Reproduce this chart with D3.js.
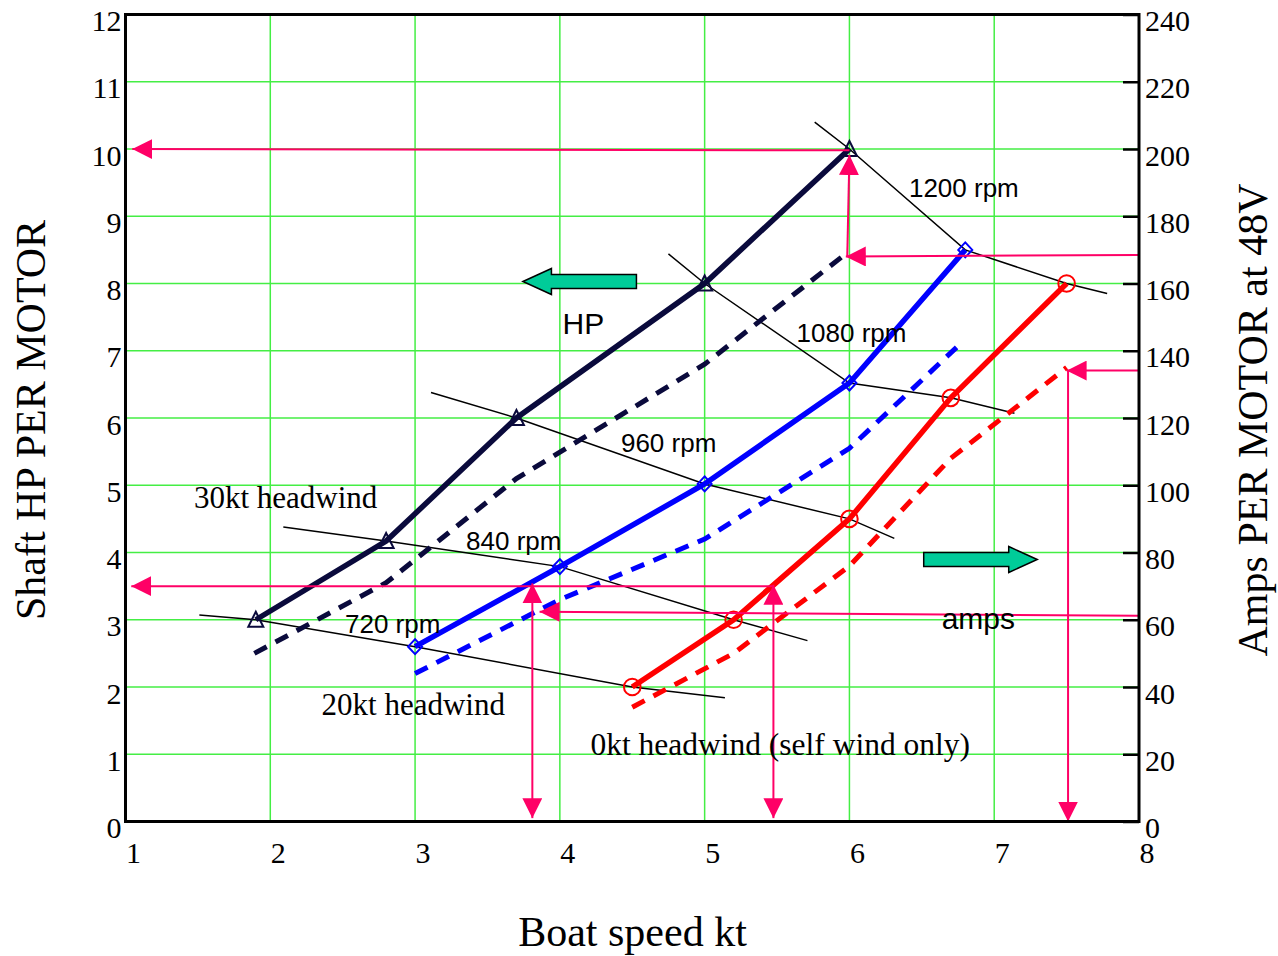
<!DOCTYPE html>
<html>
<head>
<meta charset="utf-8">
<script src="https://cdn.jsdelivr.net/npm/d3@7"></script>
<style>
  body { margin: 0; background: #fff; }
</style>
</head>
<body>
<div id="chart"></div>
<script>
// Ticks
const speedTicks = [1, 2, 3, 4, 5, 6, 7, 8];
const hpTicks = [0, 1, 2, 3, 4, 5, 6, 7, 8, 9, 10, 11, 12];
const ampTicks = [0, 20, 40, 60, 80, 100, 120, 140, 160, 180, 200, 220, 240];
const gridSpeeds = [2, 3, 4, 5, 6, 7];
const gridHp = [1, 2, 3, 4, 5, 6, 7, 8, 9, 10, 11];

// 30kt headwind
const speedHw30 = [1.9, 2.8, 3.7, 5.0, 6.0];
const hpHw30 = [3.0, 4.17, 6.0, 8.0, 10.0];
const ampSpeedHw30 = [1.89, 2.8, 3.7, 5.0, 5.95];
const ampsHw30 = [50, 71, 102, 136, 168];

// 20kt headwind
const speedHw20 = [3.0, 4.0, 5.0, 6.0, 6.8];
const hpHw20 = [2.6, 3.79, 5.02, 6.52, 8.5];
const ampSpeedHw20 = [3.0, 4.0, 5.0, 6.0, 6.74];
const ampsHw20 = [44, 66, 84, 111, 141];

// 0kt headwind (self wind only)
const speedHw0 = [4.5, 5.2, 6.0, 6.7, 7.5];
const hpHw0 = [2.0, 3.0, 4.5, 6.3, 8.0];
const ampSpeedHw0 = [4.5, 5.2, 6.0, 6.7, 7.5];
const ampsHw0 = [34, 50, 76, 108, 135];

// constant rpm lines (run through the i-th point of each headwind curve)
const rpmLabels = ["720 rpm", "840 rpm", "960 rpm", "1080 rpm", "1200 rpm"];
const rpmFromSpeed = [1.51, 2.09, 3.11, 4.75, 5.76];
const rpmFromHp = [3.07, 4.38, 6.38, 8.44, 10.4];
const rpmToSpeed = [5.14, 5.71, 6.31, 7.14, 7.78];
const rpmToHp = [1.84, 2.69, 4.21, 6.07, 7.85];

// Set up chart dimensions and margins
const margin = { top: 14.5, right: 139, bottom: 134.5, left: 125.5 };
const width = 1278 - margin.left - margin.right;
const height = 956 - margin.top - margin.bottom;

const serif = "'Liberation Serif', 'Times New Roman', serif";
const sans = "'Liberation Sans', Arial, sans-serif";
const navy = "#0a0a3c";
const pink = "#ff0066";
const gridColor = "#44ee44";

const root = d3.select("#chart")
    .append("svg")
    .attr("width", 1278)
    .attr("height", 956);

const svg = root.append("g")
    .attr("transform", `translate(${margin.left},${margin.top})`);

const defs = root.append("defs");
defs.append("marker")
    .attr("id", "head")
    .attr("viewBox", "0 -10 20 20")
    .attr("refX", 20)
    .attr("refY", 0)
    .attr("markerWidth", 20)
    .attr("markerHeight", 20)
    .attr("markerUnits", "userSpaceOnUse")
    .attr("orient", "auto-start-reverse")
    .append("path")
    .attr("d", "M0,-10L20,0L0,10Z")
    .attr("fill", pink);

// scales
const x = d3.scaleLinear().domain([1, 8]).range([0, width]);
const yHp = d3.scaleLinear().domain([0, 12]).range([height, 0]);
const yAmps = d3.scaleLinear().domain([0, 240]).range([height, 0]);

// grid
svg.append("g").selectAll("line")
    .data(gridSpeeds)
    .join("line")
    .attr("x1", d => x(d)).attr("x2", d => x(d))
    .attr("y1", 0).attr("y2", height)
    .attr("stroke", gridColor).attr("stroke-width", 1.5);

svg.append("g").selectAll("line")
    .data(gridHp)
    .join("line")
    .attr("x1", 0).attr("x2", width)
    .attr("y1", d => yHp(d)).attr("y2", d => yHp(d))
    .attr("stroke", gridColor).attr("stroke-width", 1.5);

// rpm lines
rpmLabels.forEach((label, i) => {
    const pts = [
        [rpmFromSpeed[i], rpmFromHp[i]],
        [speedHw30[i], hpHw30[i]],
        [speedHw20[i], hpHw20[i]],
        [speedHw0[i], hpHw0[i]],
        [rpmToSpeed[i], rpmToHp[i]]
    ];
    svg.append("path")
        .datum(pts)
        .attr("d", d3.line().x(d => x(d[0])).y(d => yHp(d[1])))
        .attr("fill", "none")
        .attr("stroke", "#000")
        .attr("stroke-width", 1.5);
});

function drawCurve(xs, ys, yScale, color, dashed) {
    svg.append("path")
        .datum(d3.zip(xs, ys))
        .attr("d", d3.line().x(d => x(d[0])).y(d => yScale(d[1])))
        .attr("fill", "none")
        .attr("stroke", color)
        .attr("stroke-width", dashed ? 5 : 5.5)
        .attr("stroke-dasharray", dashed ? "14,10" : null);
}

// amps (dashed, right axis)
drawCurve(ampSpeedHw30, ampsHw30, yAmps, navy, true);
drawCurve(ampSpeedHw20, ampsHw20, yAmps, "#0000ff", true);
drawCurve(ampSpeedHw0, ampsHw0, yAmps, "#ff0000", true);

// HP (solid, left axis)
drawCurve(speedHw30, hpHw30, yHp, navy, false);
drawCurve(speedHw20, hpHw20, yHp, "#0000ff", false);
drawCurve(speedHw0, hpHw0, yHp, "#ff0000", false);

// markers
svg.append("g").selectAll("path")
    .data(d3.zip(speedHw30, hpHw30))
    .join("path")
    .attr("transform", d => `translate(${x(d[0])},${yHp(d[1])})`)
    .attr("d", "M0,-8L7.5,7L-7.5,7Z")
    .attr("fill", "none").attr("stroke", navy).attr("stroke-width", 2);

svg.append("g").selectAll("path")
    .data(d3.zip(speedHw20, hpHw20))
    .join("path")
    .attr("transform", d => `translate(${x(d[0])},${yHp(d[1])})`)
    .attr("d", "M0,-7.5L7,0L0,7.5L-7,0Z")
    .attr("fill", "none").attr("stroke", "#0000ff").attr("stroke-width", 2);

svg.append("g").selectAll("circle")
    .data(d3.zip(speedHw0, hpHw0))
    .join("circle")
    .attr("cx", d => x(d[0]))
    .attr("cy", d => yHp(d[1]))
    .attr("r", 8.3)
    .attr("fill", "none").attr("stroke", "#ff0000").attr("stroke-width", 2);

// pink read-off arrows
function arrow(x1, y1, x2, y2, both) {
    svg.append("line")
        .attr("x1", x1).attr("y1", y1)
        .attr("x2", x2).attr("y2", y2)
        .attr("stroke", pink)
        .attr("stroke-width", 2)
        .attr("marker-start", both ? "url(#head)" : null)
        .attr("marker-end", "url(#head)");
}

arrow(x(6.0), yHp(9.98), x(1.047), yHp(10), false);
arrow(x(5.985), yAmps(168), x(6.0), yHp(9.91), false);
arrow(x(8), yAmps(168.5), x(5.975), yAmps(168), false);
arrow(x(8), yAmps(134.1), x(7.5), yAmps(134.1), false);
arrow(x(7.51), yAmps(134.1), x(7.51), yHp(0), false);
arrow(x(5.47), yHp(3.5), x(1.04), yHp(3.5), false);
arrow(x(3.81), yHp(0.05), x(3.81), yHp(3.54), true);
arrow(x(8), yAmps(61.2), x(3.86), yAmps(62.4), false);
arrow(x(5.475), yHp(0.05), x(5.475), yHp(3.52), true);

// rpm labels
const rpmLabelSpeed = [2.516, 3.352, 4.422, 5.635, 6.411];
const rpmLabelHp = [2.80, 4.037, 5.494, 7.135, 9.29];
rpmLabels.forEach((label, i) => {
    svg.append("text")
        .attr("x", x(rpmLabelSpeed[i]))
        .attr("y", yHp(rpmLabelHp[i]))
        .attr("font-family", sans)
        .attr("font-size", 26)
        .text(label);
});

// other labels
function label(text, sx, hy, font, size) {
    svg.append("text")
        .attr("x", x(sx))
        .attr("y", yHp(hy))
        .attr("font-family", font)
        .attr("font-size", size)
        .text(text);
}
label("30kt headwind", 1.473, 4.657, serif, 31);
label("20kt headwind", 2.354, 1.591, serif, 31);
label("0kt headwind (self wind only)", 4.211, 0.989, serif, 31.5);
label("HP", 4.019, 7.249, sans, 30);
label("amps", 6.637, 2.858, sans, 30);

// green block arrows
function blockArrow(tipX, tipY, dir) {
    const hl = 28.5, hh = 13, bh = 7, bl = 85;
    const pts = [
        [0, 0], [hl, -hh], [hl, -bh], [hl + bl, -bh],
        [hl + bl, bh], [hl, bh], [hl, hh]
    ].map(p => [tipX + dir * p[0], tipY + p[1]]);
    svg.append("polygon")
        .attr("points", pts.map(p => p.join(",")).join(" "))
        .attr("fill", "#00cc99")
        .attr("stroke", "#000")
        .attr("stroke-width", 1.5);
}
blockArrow(x(3.745), yHp(8.03), 1);
blockArrow(x(7.297), yHp(3.896), -1);

// axes
const leftAxis = svg.append("g")
    .call(d3.axisLeft(yHp).tickValues(hpTicks).tickFormat(d3.format("d")).tickSize(0).tickPadding(4));
leftAxis.select(".domain").remove();
leftAxis.selectAll("text")
    .attr("dy", 16)
    .attr("font-family", serif)
    .attr("font-size", 30)
    .attr("fill", "#000");

const bottomAxis = svg.append("g")
    .attr("transform", `translate(0,${height})`)
    .call(d3.axisBottom(x).tickValues(speedTicks).tickFormat(d3.format("d")).tickSize(0).tickPadding(41));
bottomAxis.select(".domain").remove();
bottomAxis.selectAll("text")
    .attr("dy", 0)
    .attr("text-anchor", "start")
    .attr("font-family", serif)
    .attr("font-size", 30)
    .attr("fill", "#000");

const rightAxis = svg.append("g")
    .attr("transform", `translate(${width},0)`)
    .call(d3.axisRight(yAmps).tickValues(ampTicks).tickFormat(d3.format("d")).tickSize(-16).tickPadding(6));
rightAxis.select(".domain").remove();
rightAxis.selectAll("line").attr("stroke", "#000").attr("stroke-width", 2.5);
rightAxis.selectAll("text")
    .attr("dy", 16)
    .attr("font-family", serif)
    .attr("font-size", 30)
    .attr("fill", "#000");

// frame
svg.append("rect")
    .attr("width", width)
    .attr("height", height)
    .attr("fill", "none")
    .attr("stroke", "#000")
    .attr("stroke-width", 3);

// axis titles
root.append("text")
    .attr("transform", "translate(45,420) rotate(-90)")
    .attr("text-anchor", "middle")
    .attr("font-family", serif)
    .attr("font-size", 42)
    .text("Shaft HP PER MOTOR");

root.append("text")
    .attr("transform", "translate(1267,420) rotate(-90)")
    .attr("text-anchor", "middle")
    .attr("font-family", serif)
    .attr("font-size", 42)
    .text("Amps PER MOTOR at 48V");

root.append("text")
    .attr("x", 632.5)
    .attr("y", 946)
    .attr("text-anchor", "middle")
    .attr("font-family", serif)
    .attr("font-size", 42)
    .text("Boat speed kt");
</script>
</body>
</html>
